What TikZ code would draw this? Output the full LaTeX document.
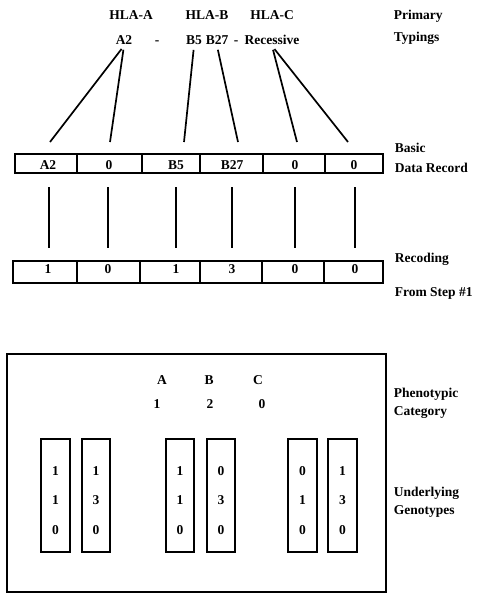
\documentclass[tikz,border=0pt]{standalone}
\usepackage{fontspec}
\setmainfont{Liberation Serif}
\begin{document}
\begin{tikzpicture}[x=1pt,y=-1pt,line width=1.6pt,
  txt/.style={font=\fontsize{13.5}{15}\selectfont\bfseries,inner sep=0pt,anchor=base},
  side/.style={txt,anchor=base west},
  cellbox/.style={draw,rectangle,inner sep=0pt,minimum width=#1},
  recbox/.style={cellbox=#1,minimum height=19pt},
  codebox/.style={cellbox=#1,minimum height=22pt},
  genebox/.style={cellbox=#1,minimum height=113pt},
  link/.style={line width=1.7pt,shorten <=4pt}]
\useasboundingbox (0,0) rectangle (477,594);

% ---- primary typings ----
\node[txt] (hA) at (131,20) {HLA-A};
\node[txt] (hB) at (207,20) {HLA-B};
\node[txt] (hC) at (272,20) {HLA-C};
\node[side] (prim) at (393,20) {Primary};
\node[side] (typ) at (393,42) {Typings};

\node[txt] (tA2) at (124,45) {A2};
\node[txt] (tdash1) at (157,45) {-};
\node[txt] (tB5) at (194,45) {B5};
\node[txt] (tB27) at (217,45) {B27};
\node[txt] (tdash2) at (236,45) {-};
\node[txt] (tRec) at (272,45) {Recessive};

% ---- basic data record ----
\node[recbox=62] (d1) at (46,163.5) {};
\node[recbox=65] (d2) at (109.5,163.5) {};
\node[recbox=58] (d3) at (171,163.5) {};
\node[recbox=63] (d4) at (231.5,163.5) {};
\node[recbox=62] (d5) at (294,163.5) {};
\node[recbox=58] (d6) at (354,163.5) {};
\node[txt] at (48,169) {A2};
\node[txt] at (109,169) {0};
\node[txt] at (176,169) {B5};
\node[txt] at (232,169) {B27};
\node[txt] at (295,169) {0};
\node[txt] at (354,169) {0};
\node[side] (basic) at (394,152) {Basic};
\node[side] (dataR) at (394,172) {Data Record};

% line ends above the record
\coordinate (u1) at (50,142);
\coordinate (u2) at (110,142);
\coordinate (u3) at (184,142);
\coordinate (u4) at (238,142);
\coordinate (u5) at (297,142);
\coordinate (u6) at (348,142);
\draw[link] (tA2.south) -- (u1);
\draw[link] (tA2.south) -- (u2);
\draw[link] (tB5.south) -- (u3);
\draw[link] (tB27.south) -- (u4);
\draw[link] (tRec.south) -- (u5);
\draw[link] (tRec.south) -- (u6);

% ---- recoding ----
\node[codebox=64] (c1) at (45,272) {};
\node[codebox=63] (c2) at (108.5,272) {};
\node[codebox=60] (c3) at (170,272) {};
\node[codebox=62] (c4) at (231,272) {};
\node[codebox=62] (c5) at (293,272) {};
\node[codebox=59] (c6) at (353.5,272) {};
\node[txt] at (48,273) {1};
\node[txt] at (108,273) {0};
\node[txt] at (176,273) {1};
\node[txt] at (232,273) {3};
\node[txt] at (295,273) {0};
\node[txt] at (355,273) {0};
\node[side] (recod) at (394,262) {Recoding};
\node[side] (fromS) at (394,296) {From Step \#1};

% vertical links between record and recoding
\foreach \i/\x in {1/49,2/108,3/176,4/232,5/295,6/355}{
  \coordinate (va\i) at (\x,187);
  \coordinate (vb\i) at (\x,248);
  \draw (va\i) -- (vb\i);
}

% ---- phenotypic category frame ----
\node[draw,rectangle,inner sep=0pt,minimum width=379pt,minimum height=238pt] (frame) at (196.5,473) {};
\node[txt] at (162,384) {A};
\node[txt] at (209,384) {B};
\node[txt] at (258,384) {C};
\node[txt] at (157,408) {1};
\node[txt] at (210,408) {2};
\node[txt] at (262,408) {0};
\node[side] (pheno) at (393,397) {Phenotypic};
\node[side] (categ) at (393,415) {Category};
\node[side] (under) at (393,496) {Underlying};
\node[side] (genot) at (393,514) {Genotypes};

\foreach \i/\x/\w/\p/\q/\r in {1/55.5/29/1/1/0, 2/96/28/1/3/0, 3/180/28/1/1/0,
                               4/221/28/0/3/0, 5/302.5/29/0/1/0, 6/342.5/29/1/3/0}{
  \node[genebox=\w] (g\i) at (\x,495.5) {};
  \node[txt] at (\x,475) {\p};
  \node[txt] at (\x,504) {\q};
  \node[txt] at (\x,534) {\r};
}
\end{tikzpicture}
\end{document}
